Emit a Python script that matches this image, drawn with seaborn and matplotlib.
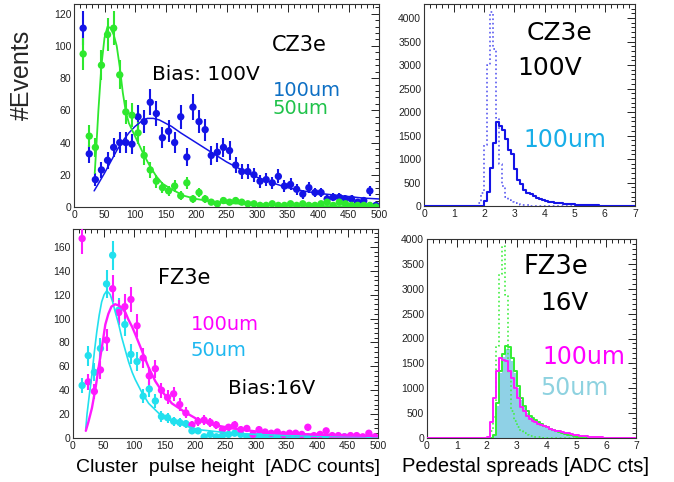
import numpy as np
import pandas as pd
import matplotlib
matplotlib.use("Agg")
import matplotlib.pyplot as plt
import seaborn as sns
from matplotlib.ticker import MultipleLocator

# ---------------- data: cluster pulse height (bin centres, ADC counts)
ph_x = [15, 25, 35, 45, 55, 65, 75, 85, 95, 105, 115, 125, 135, 145, 155, 165, 175,
        185, 195, 205, 215, 225, 235, 245, 255, 265, 275, 285, 295, 305, 315, 325,
        335, 345, 355, 365, 375, 385, 395, 405, 415, 425, 435, 445, 455, 465, 475,
        485, 495]

cz_100 = [111, 33, 17, 23, 29, 37, 40, 40, 39, 56, 53, 65, 58, 43, 47, 40, 56,
          31, 62, 53, 48, 32, 34, 37, 35, 26, 22, 22, 20, 16, 17, 15,
          19, 13, 14, 11, 8, 12, 9, 9, 5, 6, 6, 5, 5, 3, 4, 10, 1]
cz_50 = [95, 44, 37, 88, 107, 111, 82, 59, 57, 46, 32, 23, 16, 12, 10, 13, 7,
         15, 5, 9, 5, 3, 2, 4, 3, 4, 3, 2, 2, 1, 1, 2,
         1, 1, 2, 1, 2, 1, 1, 2, 3, 1, 3, 2, 1, 1, 1, 1, 0]

cz_fit100_x = [33, 40, 50, 60, 70, 80, 90, 100, 110, 120, 130, 140, 150, 160, 175,
               200, 225, 250, 275, 300, 325, 350, 375, 400, 425, 450, 475, 500]
cz_fit100_y = [10, 14.5, 21, 28, 35, 41, 46, 50, 53, 55, 55, 54, 52, 50, 46,
               40, 34, 28, 23, 18.5, 15, 12, 10, 8.5, 7.5, 6.5, 5.5, 5]
cz_fit50_x = [34, 37, 40, 45, 50, 55, 60, 65, 70, 75, 80, 85, 90, 100, 110, 115,
              125, 135, 145, 160, 180, 200, 225, 250, 300, 350, 400, 450, 500]
cz_fit50_y = [21, 40, 60, 88, 105, 112, 111, 107, 100, 87, 71, 59, 52, 44, 36, 32,
              25, 19, 14.5, 11, 7, 5, 3.5, 2.5, 1.5, 1, 0.6, 0.4, 0.3]

fz_100 = [167, 47, 39, 57, 82, 125, 105, 110, 116, 94, 67, 52, 58, 40, 34, 37, 28,
          21, 11, 14, 15, 13, 11, 7, 9, 11, 7, 8, 3, 7, 5, 4,
          5, 3, 4, 4, 3, 9, 2, 3, 6, 2, 2, 1, 2, 2, 1, 4, 1]
fz_50 = [44, 69, 55, 75, 129, 153, 107, 95, 70, 64, 35, 41, 31, 18, 17, 14, 13,
         12, 6, 6, 1, 3, 1, 2, 3, 4, 3, 1, 1, 2, 1, 1,
         0, 2, 1, 1, 0, 1, 1, 0, 1, 0, 0, 1, 0, 1, 0, 0, 0]

fz_fit100_x = [21, 25, 31, 37, 42, 48, 53, 58, 63, 69, 75, 80, 86, 91, 97, 102, 113,
               124, 135, 146, 162, 184, 206, 230, 262, 300, 350, 400, 450, 500]
fz_fit100_y = [6, 13, 25, 42, 59, 78, 95, 104, 110, 112, 111, 109, 105, 99, 93, 87, 73,
               59, 47.5, 39, 29, 21.5, 15, 11, 8, 5.5, 3.8, 2.8, 2.1, 1.7]
fz_fit50_x = [21, 23, 27, 31, 35, 39, 43, 47, 51, 55, 58, 61, 65, 69, 75, 80, 86, 91,
              97, 102, 113, 124, 140, 162, 185, 206, 250, 300, 350, 400, 450, 500]
fz_fit50_y = [8, 20, 37, 53, 72, 89, 103, 114, 120, 123, 122, 120, 114, 106, 95, 84, 73, 64,
              55, 49, 38, 29, 21, 14, 10, 7, 4.5, 3, 2, 1.5, 1.2, 1]

# ---------------- data: pedestal spreads (0.1 wide bins, counts)
cz_ped_start = 1.7
cz_ped_solid = [0, 0, 0, 100, 300, 800, 1350, 1790, 1700, 1620, 1420, 1200, 1110,
                780, 560, 470, 350, 280, 250, 210, 175, 140, 130, 100, 85, 80, 70,
                65, 55, 50, 45, 40, 35, 30, 30, 25, 25, 20, 15, 15, 12, 10, 10,
                8, 6, 5, 4, 3]
cz_ped_dotted = [10, 60, 280, 1300, 3000, 4140, 3350, 1870, 900, 420, 200, 120, 80,
                 55, 40, 30, 20, 15, 10, 5, 3]

fz_ped_start = 2.0
fz_ped_100 = [30, 330, 800, 1340, 1600, 1570, 1540, 1340, 1200, 1000, 800, 620, 540,
              440, 390, 350, 320, 290, 260, 240, 220, 190, 170, 150, 140, 125, 110,
              95, 80, 70, 55, 45, 38, 32, 27, 22, 18, 15, 12, 10, 8, 6, 5, 4, 3,
              2, 2, 1, 1]
fz_ped_green = [0, 0, 60, 700, 1350, 1680, 1850, 1830, 1600, 1350, 1050, 800, 650,
                540, 450, 400, 360, 320, 280, 250, 220, 190, 160, 140, 120, 100, 85,
                70, 55, 40, 25, 15, 10, 6, 4, 2, 1]
fz_ped_fill = [0, 0, 40, 650, 1300, 1620, 1790, 1780, 1550, 1300, 1000, 760, 620,
               510, 430, 380, 340, 300, 265, 235, 205, 180, 150, 130, 110, 92, 78,
               62, 48, 35, 20, 12, 8, 5, 3, 1]
fz_ped_dotted = [20, 150, 420, 1850, 3300, 3850, 2880, 1300, 550, 350, 220, 150, 100,
                 70, 50, 35, 25, 18, 12, 8, 5, 3, 2]

# ---------------- style
sns.set_style("white")
plt.rcParams['font.family'] = ['Liberation Sans', 'DejaVu Sans']
WIDE = ['DejaVu Sans']

W, H = 674, 482
fig = plt.figure(figsize=(W / 100, H / 100), dpi=100)


def px_axes(l, t, r, b):
    return fig.add_axes([l / W, 1 - b / H, (r - l) / W, (b - t) / H])


def style_axes(ax, xmaj, xmin, ymaj, ymin):
    ax.xaxis.set_major_locator(MultipleLocator(xmaj))
    ax.xaxis.set_minor_locator(MultipleLocator(xmin))
    ax.yaxis.set_major_locator(MultipleLocator(ymaj))
    ax.yaxis.set_minor_locator(MultipleLocator(ymin))
    ax.tick_params(which='both', direction='in', top=True, right=True,
                   width=0.7, colors='#222222', labelsize=7.5, pad=2)
    ax.tick_params(which='major', length=6)
    ax.tick_params(which='minor', length=3)
    for s in ax.spines.values():
        s.set_color('#333333')
        s.set_linewidth(0.8)
    ax.set_xlabel('')
    ax.set_ylabel('')


def points(ax, x, y, color):
    df = pd.DataFrame({'x': x, 'y': np.asarray(y, dtype=float)})
    ax.errorbar(df['x'], df['y'], yerr=np.sqrt(df['y']), fmt='none', ecolor=color,
                elinewidth=1.5, capsize=0, zorder=3)
    sns.scatterplot(data=df, x='x', y='y', color=color, s=28, edgecolor='none',
                    ax=ax, zorder=4, legend=False)


def fit(ax, x, y, color, lw):
    df = pd.DataFrame({'x': x, 'y': y})
    sns.lineplot(data=df, x='x', y='y', color=color, linewidth=lw, ax=ax, zorder=5,
                 estimator=None, sort=False)


edges = [round(0.1 * i, 1) for i in range(71)]
centres = [round(0.1 * i + 0.05, 2) for i in range(70)]


def full_counts(start, vals):
    c = np.zeros(len(centres))
    i0 = int(round(start * 10))
    c[i0:i0 + len(vals)] = vals
    return c


def hist(ax, start, vals, color, ls='-', lw=1.4, fill=False, z=3):
    df = pd.DataFrame({'x': centres, 'w': full_counts(start, vals)})
    if fill:
        sns.histplot(data=df, x='x', weights='w', bins=edges, element='step',
                     fill=True, color=color, alpha=1, linewidth=0, ax=ax, zorder=z)
    else:
        sns.histplot(data=df, x='x', weights='w', bins=edges, element='step',
                     fill=False, color=color, linewidth=lw, linestyle=ls, ax=ax,
                     zorder=z)


BLUE = '#1414e6'
GREEN = '#2ee82e'
MAG = '#ff1aff'
CYAN = '#22e0ee'

# ---- top-left
ax1 = px_axes(74, 4, 379, 207)
points(ax1, ph_x, cz_100, BLUE)
points(ax1, ph_x, cz_50, GREEN)
fit(ax1, cz_fit100_x, cz_fit100_y, BLUE, 1.1)
fit(ax1, cz_fit50_x, cz_fit50_y, GREEN, 1.3)
ax1.set_xlim(0, 500)
ax1.set_ylim(0, 126)
style_axes(ax1, 50, 10, 20, 4)

# ---- bottom-left
ax2 = px_axes(73, 229, 378, 438)
points(ax2, ph_x, fz_50, CYAN)
points(ax2, ph_x, fz_100, MAG)
fit(ax2, fz_fit50_x, fz_fit50_y, CYAN, 1.2)
fit(ax2, fz_fit100_x, fz_fit100_y, MAG, 1.7)
ax2.set_xlim(0, 500)
ax2.set_ylim(0, 175)
style_axes(ax2, 50, 10, 20, 4)

# ---- top-right
ax3 = px_axes(424, 4, 635, 206)
hist(ax3, cz_ped_start, cz_ped_dotted, '#5a5af0', ls=':', lw=1.2)
hist(ax3, cz_ped_start, cz_ped_solid, BLUE, lw=1.5, z=4)
ax3.set_xlim(0, 7)
ax3.set_ylim(0, 4300)
style_axes(ax3, 1, 0.2, 500, 100)

# ---- bottom-right
ax4 = px_axes(427, 239, 636, 438)
hist(ax4, fz_ped_start, fz_ped_fill, '#8fd1e6', fill=True, z=2)
hist(ax4, fz_ped_start, fz_ped_dotted, '#44ee44', ls=':', lw=1.2, z=3)
hist(ax4, fz_ped_start, fz_ped_green, '#33ee33', lw=1.4, z=4)
hist(ax4, fz_ped_start, fz_ped_100, MAG, lw=1.4, z=5)
ax4.set_xlim(0, 7)
ax4.set_ylim(0, 4000)
style_axes(ax4, 1, 0.2, 500, 100)


# ---- texts
def ftext(x, y, s, size, color='black', family=WIDE, **kw):
    fig.text(x / W, 1 - y / H, s, fontsize=size, color=color, family=family,
             ha='left', va='center', **kw)


fig.text(22 / W, 1 - 75 / H, '#Events', fontsize=18, rotation=90,
         ha='center', va='center')

ftext(272, 45, 'CZ3e', 15)
ftext(152, 75, 'Bias: 100V', 14.5)
ftext(273, 90, '100um', 14, '#0d6fc4')
ftext(273, 108, '50um', 14, '#1fc24a')

ftext(158, 278, 'FZ3e', 15)
ftext(191, 325, '100um', 14, '#ff00ff')
ftext(191, 351, '50um', 14, '#1eb8f0')
ftext(228, 388, 'Bias:16V', 14.3)
ftext(76, 467, 'Cluster  pulse height  [ADC counts]', 14,
      family=['Liberation Sans', 'DejaVu Sans'])

ftext(527, 33, 'CZ3e', 18)
ftext(517, 68, '100V', 18)
ftext(523, 140, '100um', 17, '#18aee8')

ftext(523, 267, 'FZ3e', 18.5)
ftext(540, 303, '16V', 17.7)
ftext(542, 357, '100um', 17, '#ff00ff')
ftext(540, 388, '50um', 17, '#8ed2e0')
ftext(402, 467, 'Pedestal spreads [ADC cts]', 14.5,
      family=['Liberation Sans', 'DejaVu Sans'])

fig.savefig('out.png', dpi=100)
